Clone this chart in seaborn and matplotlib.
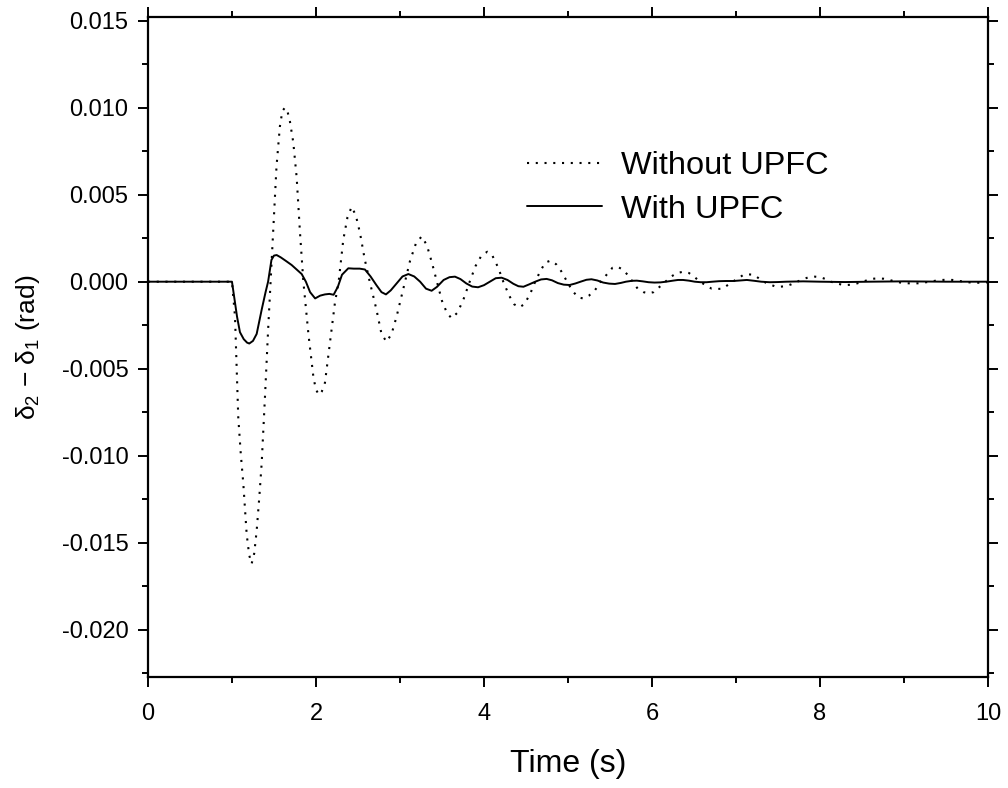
"""Rotor angle difference with and without UPFC."""
import pandas as pd
import numpy as np
import matplotlib
matplotlib.use('Agg')
import matplotlib.pyplot as plt
import matplotlib.ticker as ticker
import seaborn as sns

sns.set_style('ticks')
plt.rcParams.update({
    'font.family': ['Liberation Sans', 'DejaVu Sans'],
    'mathtext.fontset': 'custom', 'mathtext.rm': 'Liberation Sans',
    'mathtext.it': 'Liberation Sans', 'mathtext.bf': 'Liberation Sans',
    'axes.linewidth': 1.6, 'axes.edgecolor': 'black',
    'text.color': 'black', 'axes.labelcolor': 'black',
    'xtick.color': 'black', 'ytick.color': 'black',
})

# Without UPFC (dotted)
t_without = [0.0, 1.0, 1.036, 1.075, 1.105, 1.135, 1.175, 1.205, 1.234, 1.265, 1.294, 1.325, 1.354,
             1.393, 1.43, 1.46, 1.49, 1.53, 1.57, 1.60, 1.631, 1.66, 1.69, 1.73, 1.77, 1.81, 1.85,
             1.91, 1.97, 2.00, 2.036, 2.07, 2.107, 2.167, 2.226, 2.27, 2.325, 2.375, 2.425, 2.475,
             2.524, 2.58, 2.64, 2.72, 2.78, 2.84, 2.90, 2.96, 3.06, 3.12, 3.19, 3.258,
             3.32, 3.38, 3.44, 3.50, 3.56, 3.615, 3.68, 3.75, 3.83, 3.90, 3.97, 4.04,
             4.10, 4.17, 4.23, 4.30, 4.36, 4.42, 4.48, 4.55, 4.61, 4.67, 4.73, 4.794,
             4.86, 4.92, 4.99, 5.05, 5.12, 5.18, 5.25, 5.32, 5.39, 5.46, 5.53, 5.59,
             5.65, 5.71, 5.77, 5.83, 5.90, 5.956, 6.02, 6.09, 6.16, 6.23, 6.30, 6.37,
             6.44, 6.50, 6.57, 6.64, 6.71, 6.77, 6.84, 6.90, 6.96, 7.03, 7.09, 7.15,
             7.21, 7.27, 7.33, 7.40, 7.46, 7.52, 7.59, 7.66, 7.73, 7.80, 7.87, 7.94,
             8.00, 8.07, 8.13, 8.20, 8.26, 8.32, 8.38, 8.44, 8.51, 8.57, 8.63, 8.69,
             8.76, 8.83, 8.90, 8.97, 9.04, 9.11, 9.18, 9.24, 9.31, 9.38, 9.45, 9.51,
             9.58, 9.65, 9.71, 9.78, 9.85, 9.92, 10.0]
d_without = [0.0, 0.0, -0.0020, -0.0078, -0.0099, -0.0116, -0.0145, -0.0157, -0.0162, -0.0156, -0.0143,
             -0.0124, -0.0104, -0.0066, -0.0028, 0.0, 0.0028, 0.0066, 0.0089, 0.0098, 0.0100, 0.0098,
             0.0092, 0.0080, 0.0060, 0.0028, 0.0, -0.0030, -0.0055, -0.0062, -0.0065, -0.0063,
             -0.0058, -0.0035, -0.0012, 0.0, 0.0024, 0.0037, 0.0043, 0.0038, 0.0028, 0.0013, 0.0,
             -0.0016, -0.0030, -0.00345, -0.0030, -0.0020, 0.0, 0.0012, 0.0022, 0.0026,
             0.0021, 0.0011, 0.0, -0.0011, -0.0018, -0.0021, -0.0018, -0.0011, 0.0, 0.0009, 0.0015, 0.00172,
             0.0015, 0.0008, 0.0, -0.0008, -0.0013, -0.00147, -0.0013, -0.0007, 0.0, 0.0006, 0.0011, 0.00121,
             0.0010, 0.0006, 0.0, -0.0005, -0.0009, -0.00096, -0.0008, -0.0005, 0.0, 0.0004, 0.0008, 0.00086,
             0.0007, 0.0004, 0.0, -0.0004, -0.0006, -0.00067, -0.0006, -0.0003, 0.0, 0.0003, 0.0005, 0.00057,
             0.0005, 0.0003, 0.0, -0.0002, -0.0004, -0.00042, -0.0004, -0.0002, 0.0, 0.0002, 0.0004, 0.00042,
             0.0004, 0.0002, 0.0, -0.00015, -0.00026, -0.00029, -0.00026, -0.00015, 0.0, 0.00015, 0.00026, 0.00029,
             0.00026, 0.00015, 0.0, -0.0001, -0.00017, -0.00019, -0.00017, -0.0001, 0.0, 0.0001, 0.00017, 0.00019,
             0.00017, 0.0001, 0.0, -0.00006, -0.00009, -0.0001, -0.00009, -0.00005, 0.0, 0.00006, 0.0001, 0.00011,
             0.0001, 0.00005, 0.0, -0.00004, -0.00006, -0.00006, -0.00003]

# With UPFC (solid)
t_with = [0.0, 1.0, 1.03, 1.06, 1.095, 1.14, 1.18, 1.206, 1.25, 1.294, 1.354, 1.40, 1.43, 1.47, 1.50,
          1.532, 1.58, 1.64, 1.71, 1.77, 1.83, 1.88, 1.93, 1.99, 2.05, 2.107, 2.16, 2.21, 2.26, 2.31,
          2.385, 2.45, 2.52, 2.583, 2.65, 2.72, 2.78, 2.833, 2.89, 2.96, 3.03, 3.10, 3.17, 3.24, 3.31,
          3.377, 3.44, 3.52, 3.59, 3.655, 3.72, 3.79, 3.86, 3.93, 4.00, 4.07, 4.14, 4.21, 4.28, 4.35,
          4.41, 4.47, 4.54, 4.61, 4.68, 4.746, 4.81, 4.88, 4.95, 5.02, 5.09, 5.15, 5.22, 5.28, 5.35,
          5.42, 5.49, 5.56, 5.63, 5.69, 5.76, 5.82, 5.89, 5.96, 6.03, 6.10, 6.17, 6.25, 6.31, 6.37,
          6.44, 6.51, 6.58, 6.65, 6.72, 6.80, 6.88, 6.97, 7.05, 7.13, 7.22, 7.30, 7.40, 7.50, 7.60,
          7.80, 8.00, 8.30, 8.60, 9.00, 9.50, 10.0]
d_with = [0.0, 0.0, -0.0010, -0.0020, -0.0029, -0.0033, -0.0035, -0.00355, -0.0034, -0.0030, -0.0016,
          -0.0006, 0.0, 0.00125, 0.0015, 0.00153, 0.0014, 0.0012, 0.00096, 0.0007, 0.00044, 0.0,
          -0.0006, -0.00096, -0.0008, -0.00073, -0.0007, -0.00075, -0.0003, 0.0004, 0.00077, 0.00075,
          0.00075, 0.0007, 0.0003, -0.0002, -0.0006, -0.00073, -0.0005, -0.0001, 0.0003, 0.00044,
          0.0003, 0.0, -0.0004, -0.00052, -0.0003, 0.0001, 0.00026, 0.00029, 0.00015, -0.0001,
          -0.00028, -0.00032, -0.0002, 0.0, 0.0002, 0.00023, 0.0001, -0.00012, -0.00026, -0.00029,
          -0.00015, 0.0, 0.00013, 0.00016, 0.00008, -0.00008, -0.00017, -0.00019, -0.0001, 0.0,
          0.00011, 0.00014, 0.00007, -0.00005, -0.00011, -0.00013, -0.00007, 0.0, 0.00005, 0.00006,
          0.00002, -0.00003, -0.00005, -0.00004, 0.0, 0.00006, 0.0001, 0.0001, 0.00006, 0.0,
          -0.00003, -0.00003, 0.0, 0.00003, 0.00004, 0.00004, 0.00007, 0.0001, 0.00005, 0.0,
          -0.00003, -0.00002, 0.0, 0.00002, 0.0, -0.00002, 0.0, 0.00002, 0.0, 0.0]

df_without = pd.DataFrame({'t': t_without, 'd': d_without})
df_with = pd.DataFrame({'t': t_with, 'd': d_with})

fig = plt.figure(figsize=(10.08, 7.88), dpi=100)
ax = fig.add_axes([0.1468, 0.1409, 0.8333, 0.8375])

sns.lineplot(data=df_without, x='t', y='d', ax=ax, color='black', linewidth=1.5,
             linestyle=(0, (1.0, 3.2)), estimator=None, sort=False, label='Without UPFC')
sns.lineplot(data=df_with, x='t', y='d', ax=ax, color='black', linewidth=1.4,
             estimator=None, sort=False, label='With UPFC')

ax.set_xlim(0, 10)
ax.set_ylim(-0.0227, 0.0152)
ax.xaxis.set_major_locator(ticker.MultipleLocator(2))
ax.xaxis.set_minor_locator(ticker.MultipleLocator(1))
ax.yaxis.set_major_locator(ticker.MultipleLocator(0.005))
ax.yaxis.set_minor_locator(ticker.MultipleLocator(0.0025))
ax.yaxis.set_major_formatter(ticker.FuncFormatter(
    lambda v, p: f'{v:.3f}'.replace('-0.000', '0.000')))
ax.tick_params(which='both', direction='out', top=True, right=True,
               labeltop=False, labelright=False, width=1.4)
ax.tick_params(which='major', length=7, labelsize=17)
ax.tick_params(axis='x', which='major', pad=12)
ax.tick_params(axis='y', which='major', pad=7)
ax.tick_params(which='minor', length=4)
for s in ax.spines.values():
    s.set_visible(True)
    s.set_linewidth(1.6)

ax.set_xlabel('Time (s)', fontsize=23, labelpad=17)
ax.set_ylabel('δ$_2$ − δ$_1$ (rad)', fontsize=19, labelpad=14)

ax.legend(loc='upper left', bbox_to_anchor=(0.451, 0.797), frameon=False, fontsize=23.4,
          handlelength=2.3, handletextpad=0.6, labelspacing=0.42, borderpad=0, borderaxespad=0)

fig.savefig('out.png', dpi=100)
